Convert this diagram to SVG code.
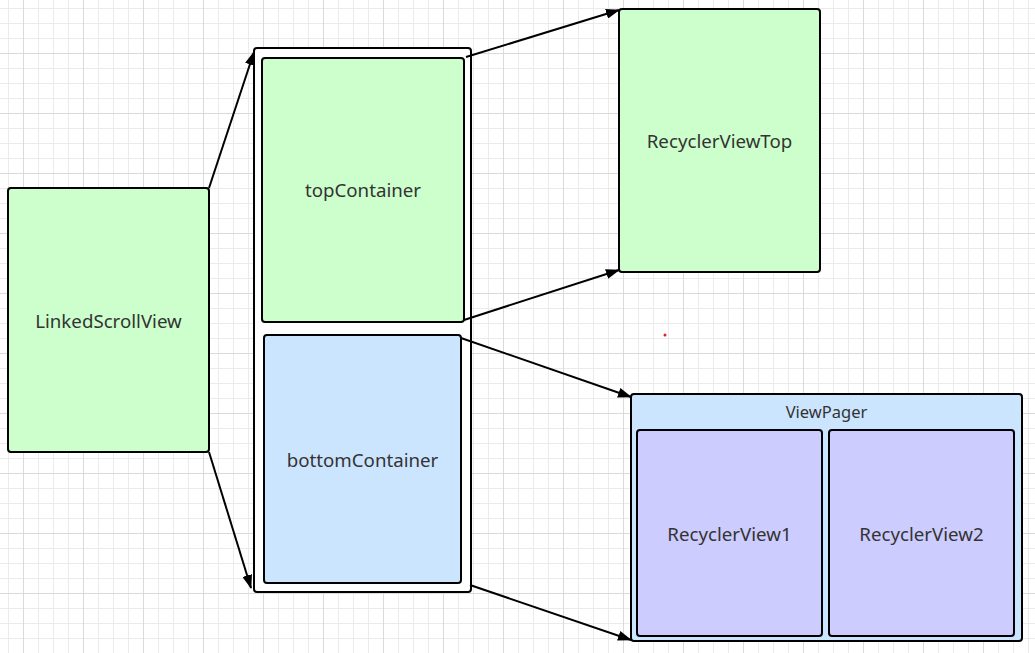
<svg xmlns="http://www.w3.org/2000/svg" width="1035" height="653" viewBox="0 0 1035 653">
  <defs>
    <pattern id="gridMinor" width="15" height="15" patternUnits="userSpaceOnUse" x="8" y="8">
      <path d="M0 0.5H15M0.5 0V15" fill="none" stroke="#ebebeb" stroke-width="1"/>
    </pattern>
    <pattern id="gridMajor" width="60" height="60" patternUnits="userSpaceOnUse" x="23" y="53">
      <path d="M0 0.5H60M0.5 0V60" fill="none" stroke="#dadada" stroke-width="1"/>
    </pattern>
    <marker id="arrow" viewBox="0 0 14 10" refX="13" refY="5" markerWidth="14" markerHeight="10" markerUnits="userSpaceOnUse" orient="auto">
      <path d="M0 0L14 5L0 10Z" fill="#000"/>
    </marker>
  </defs>
  <style>
    .box { stroke: #000; stroke-width: 2; }
    .green { fill: #ccffcc; }
    .blue { fill: #cce5ff; }
    .violet { fill: #ccccff; }
    .frame { fill: #fff; }
    .label { font-family: "Noto Sans", "Open Sans", sans-serif; font-size: 18.7px; fill: #333; text-anchor: middle; dominant-baseline: central; }
    .small { font-size: 16.5px; }
    .edge { stroke: #000; stroke-width: 2; fill: none; marker-end: url(#arrow); }
  </style>

  <!-- background grid -->
  <rect width="1035" height="653" fill="#fff"/>
  <rect width="1035" height="653" fill="url(#gridMinor)"/>
  <rect width="1035" height="653" fill="url(#gridMajor)"/>

  <g id="linkedScrollView">
    <rect class="box green" x="8" y="188" width="201" height="264" rx="3"/>
    <text class="label" x="108.5" y="320">LinkedScrollView</text>
  </g>

  <g id="containerFrame">
    <rect class="box frame" x="254" y="48" width="217" height="544" rx="3"/>
  </g>

  <g id="topContainer">
    <rect class="box green" x="262" y="58" width="202" height="264" rx="3"/>
    <text class="label" x="363" y="189">topContainer</text>
  </g>

  <g id="bottomContainer">
    <rect class="box blue" x="264" y="335" width="197" height="248" rx="3"/>
    <text class="label" x="362.5" y="459">bottomContainer</text>
  </g>

  <g id="recyclerViewTop">
    <rect class="box green" x="619" y="9" width="201" height="263" rx="3"/>
    <text class="label" x="719.5" y="140">RecyclerViewTop</text>
  </g>

  <g id="viewPager">
    <rect class="box blue" x="631" y="394" width="391" height="247" rx="3"/>
    <text class="label small" x="826.5" y="411">ViewPager</text>
  </g>

  <g id="recyclerView1">
    <rect class="box violet" x="637" y="430" width="185" height="206" rx="3"/>
    <text class="label" x="729.5" y="533">RecyclerView1</text>
  </g>

  <g id="recyclerView2">
    <rect class="box violet" x="829" y="430" width="185" height="206" rx="3"/>
    <text class="label" x="921.5" y="533">RecyclerView2</text>
  </g>

  <circle cx="665" cy="335" r="1.5" fill="#e02020"/>

  <g id="connectors">
    <line class="edge" x1="209" y1="188" x2="254" y2="52"/>
    <line class="edge" x1="209" y1="452" x2="251" y2="588"/>
    <line class="edge" x1="466" y1="57" x2="619" y2="10"/>
    <line class="edge" x1="464" y1="320" x2="619" y2="270"/>
    <line class="edge" x1="461" y1="338" x2="631" y2="397"/>
    <line class="edge" x1="470" y1="585" x2="631" y2="640"/>
  </g>
</svg>
